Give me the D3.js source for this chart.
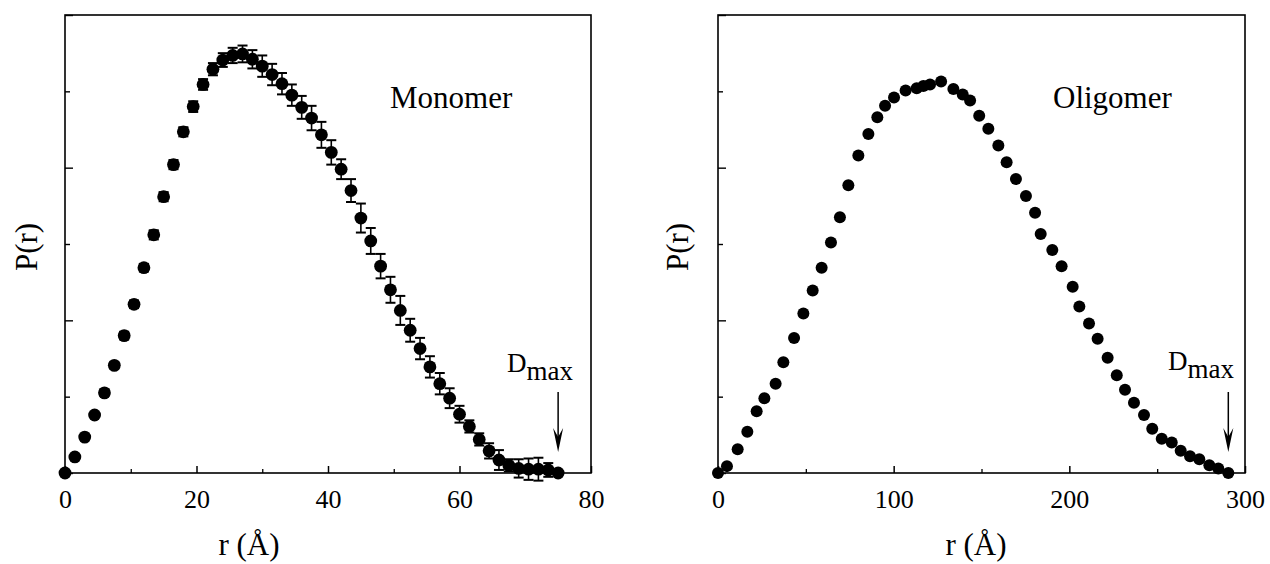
<!DOCTYPE html>
<html><head><meta charset="utf-8">
<script src="https://cdn.jsdelivr.net/npm/d3@7"></script>
<style>html,body{margin:0;padding:0;background:#fff}svg{display:block}text{font-family:"Liberation Serif","Times New Roman",serif;fill:#000}</style>
</head><body>
<svg id="c" width="1270" height="564"></svg>
<script>
// ---- data ----
const monoR = [0,1.5,3,4.5,6,7.5,9,10.5,12,13.5,15,16.5,18,19.5,21,22.5,24,25.5,27,28.5,30,31.5,33,34.5,36,37.5,39,40.5,42,43.5,45,46.5,48,49.5,51,52.5,54,55.5,57,58.5,60,61.5,63,64.5,66,67.5,69,70.5,72,73.5,75];
const monoP = [0,0.21,0.47,0.76,1.05,1.41,1.80,2.21,2.69,3.12,3.62,4.04,4.47,4.80,5.09,5.29,5.41,5.47,5.49,5.42,5.33,5.22,5.10,4.95,4.79,4.65,4.43,4.20,3.98,3.70,3.34,3.04,2.71,2.40,2.13,1.87,1.63,1.39,1.17,0.98,0.77,0.61,0.44,0.29,0.17,0.10,0.06,0.05,0.05,0.04,0.00];
const monoErr = [0,0.02,0.03,0.03,0.04,0.04,0.05,0.05,0.05,0.06,0.06,0.06,0.06,0.07,0.07,0.08,0.09,0.10,0.11,0.12,0.14,0.14,0.14,0.14,0.15,0.16,0.17,0.16,0.13,0.15,0.19,0.17,0.16,0.17,0.19,0.15,0.14,0.14,0.14,0.13,0.11,0.08,0.08,0.10,0.13,0.08,0.12,0.14,0.15,0.09,0];
const oligoR = [0,5.1,11.2,16.7,22.0,26.4,32.8,37.2,43.3,48.6,53.9,59.0,64.3,69.4,74.2,79.9,85.6,90.7,95.1,100.2,106.8,113.1,116.9,120.7,127.0,134.0,139.3,143.5,148.7,153.9,159.6,164.3,169.6,175.3,180.5,183.7,190.3,195.6,201.9,205.7,211.2,216.1,221.8,227.0,231.7,236.8,242.5,247.2,252.6,258.3,263.4,268.7,274.0,279.7,284.8,290.5];
const oligoP = [0,0.09,0.31,0.54,0.81,0.98,1.17,1.45,1.77,2.09,2.39,2.69,3.02,3.35,3.77,4.16,4.44,4.66,4.81,4.92,5.01,5.04,5.07,5.09,5.13,5.03,4.96,4.88,4.68,4.51,4.29,4.07,3.85,3.63,3.41,3.13,2.92,2.71,2.44,2.18,1.96,1.76,1.51,1.28,1.09,0.92,0.76,0.58,0.45,0.40,0.29,0.22,0.18,0.10,0.06,0.00];
const monoTicks = [0,20,40,60,80];
const oligoTicks = [0,100,200,300];
const yTicks = [0,1,2,3,4,5,6];
const monoDmax = 75, oligoDmax = 290.5;

// ---- layout ----
const svg = d3.select("#c");
function txt(g, x, y, s, size, anchor, rot) {
  return g.append("text").attr("font-size", size).attr("text-anchor", anchor || "start")
    .attr("transform", `translate(${x},${y})` + (rot ? ` rotate(${rot})` : "")).text(s);
}

const panels = [
  {x0:65, x1:591, dom:[0,80], ticks:monoTicks, minor:[10,30,50,70], R:monoR, P:monoP, E:monoErr, rad:6.4,
   title:"Monomer", tx:390, ty:108, ylab:37, xlabX:249, dmax:monoDmax, dx:507, dy:372},
  {x0:718, x1:1245, dom:[0,300], ticks:oligoTicks, minor:[50,150,250], R:oligoR, P:oligoP, E:null, rad:6,
   title:"Oligomer", tx:1053, ty:108, ylab:688, xlabX:976, dmax:oligoDmax, dx:1168, dy:370}
];

const y = d3.scaleLinear().domain([0,6]).range([473,15]);

panels.forEach(p => {
  const x = d3.scaleLinear().domain(p.dom).range([p.x0, p.x1]);
  const g = svg.append("g");
  g.append("rect").attr("x", p.x0).attr("y", 15).attr("width", p.x1 - p.x0).attr("height", 458)
    .attr("fill", "none").attr("stroke", "#000").attr("stroke-width", 1.6);
  const xa = g.append("g").attr("transform", "translate(0,473)")
    .call(d3.axisBottom(x).tickValues(p.ticks).tickSize(-7).tickFormat(d3.format("d")));
  xa.select(".domain").remove();
  xa.selectAll("line").attr("stroke-width", 1.5);
  xa.selectAll("text").attr("font-size", 26).attr("font-family", "Liberation Serif").attr("dy", 0).attr("y", 35);
  const xm = g.append("g").attr("transform", "translate(0,473)")
    .call(d3.axisBottom(x).tickValues(p.minor).tickSize(-4).tickFormat(""));
  xm.select(".domain").remove();
  xm.selectAll("line").attr("stroke-width", 1.3);
  const ya = g.append("g").attr("transform", `translate(${p.x0},0)`)
    .call(d3.axisLeft(y).tickValues(yTicks).tickSize(0).tickFormat(""));
  ya.select(".domain").remove();
  ya.selectAll(".tick").append("line").attr("x1", 0).attr("x2", d => d % 2 === 0 ? 8 : 5)
    .attr("stroke", "#000").attr("stroke-width", 1.4);
  if (p.E) {
    const eb = g.append("g").attr("stroke", "#000").attr("stroke-width", 1.6);
    p.R.forEach((r, i) => {
      const e = p.E[i]; if (!e) return;
      const cx = x(r), t = y(p.P[i] + e), b = y(p.P[i] - e);
      eb.append("line").attr("x1", cx).attr("x2", cx).attr("y1", t).attr("y2", b);
      eb.append("line").attr("x1", cx - 5).attr("x2", cx + 5).attr("y1", t).attr("y2", t).attr("stroke-width", 2);
      eb.append("line").attr("x1", cx - 5).attr("x2", cx + 5).attr("y1", b).attr("y2", b).attr("stroke-width", 2);
    });
  }
  g.append("g").selectAll("circle").data(p.R).join("circle")
    .attr("cx", r => x(r)).attr("cy", (r, i) => y(p.P[i])).attr("r", p.rad).attr("fill", "#000");
  txt(g, p.tx, p.ty, p.title, 31);
  txt(g, p.ylab, 247, "P(r)", 31, "middle", -90);
  txt(g, p.xlabX, 555, "r (Å)", 31, "middle");
  const dl = g.append("text").attr("font-size", 27).attr("transform", `translate(${p.dx},${p.dy})`);
  dl.append("tspan").text("D");
  dl.append("tspan").attr("dy", 8).text("max");
  const ax = x(p.dmax);
  g.append("line").attr("x1", ax).attr("x2", ax).attr("y1", 392).attr("y2", 440)
    .attr("stroke", "#000").attr("stroke-width", 1.5);
  g.append("path").attr("d", `M${ax},452 L${ax-5},428 L${ax},437 L${ax+5},428 Z`).attr("fill", "#000");
});
</script>
</body></html>
